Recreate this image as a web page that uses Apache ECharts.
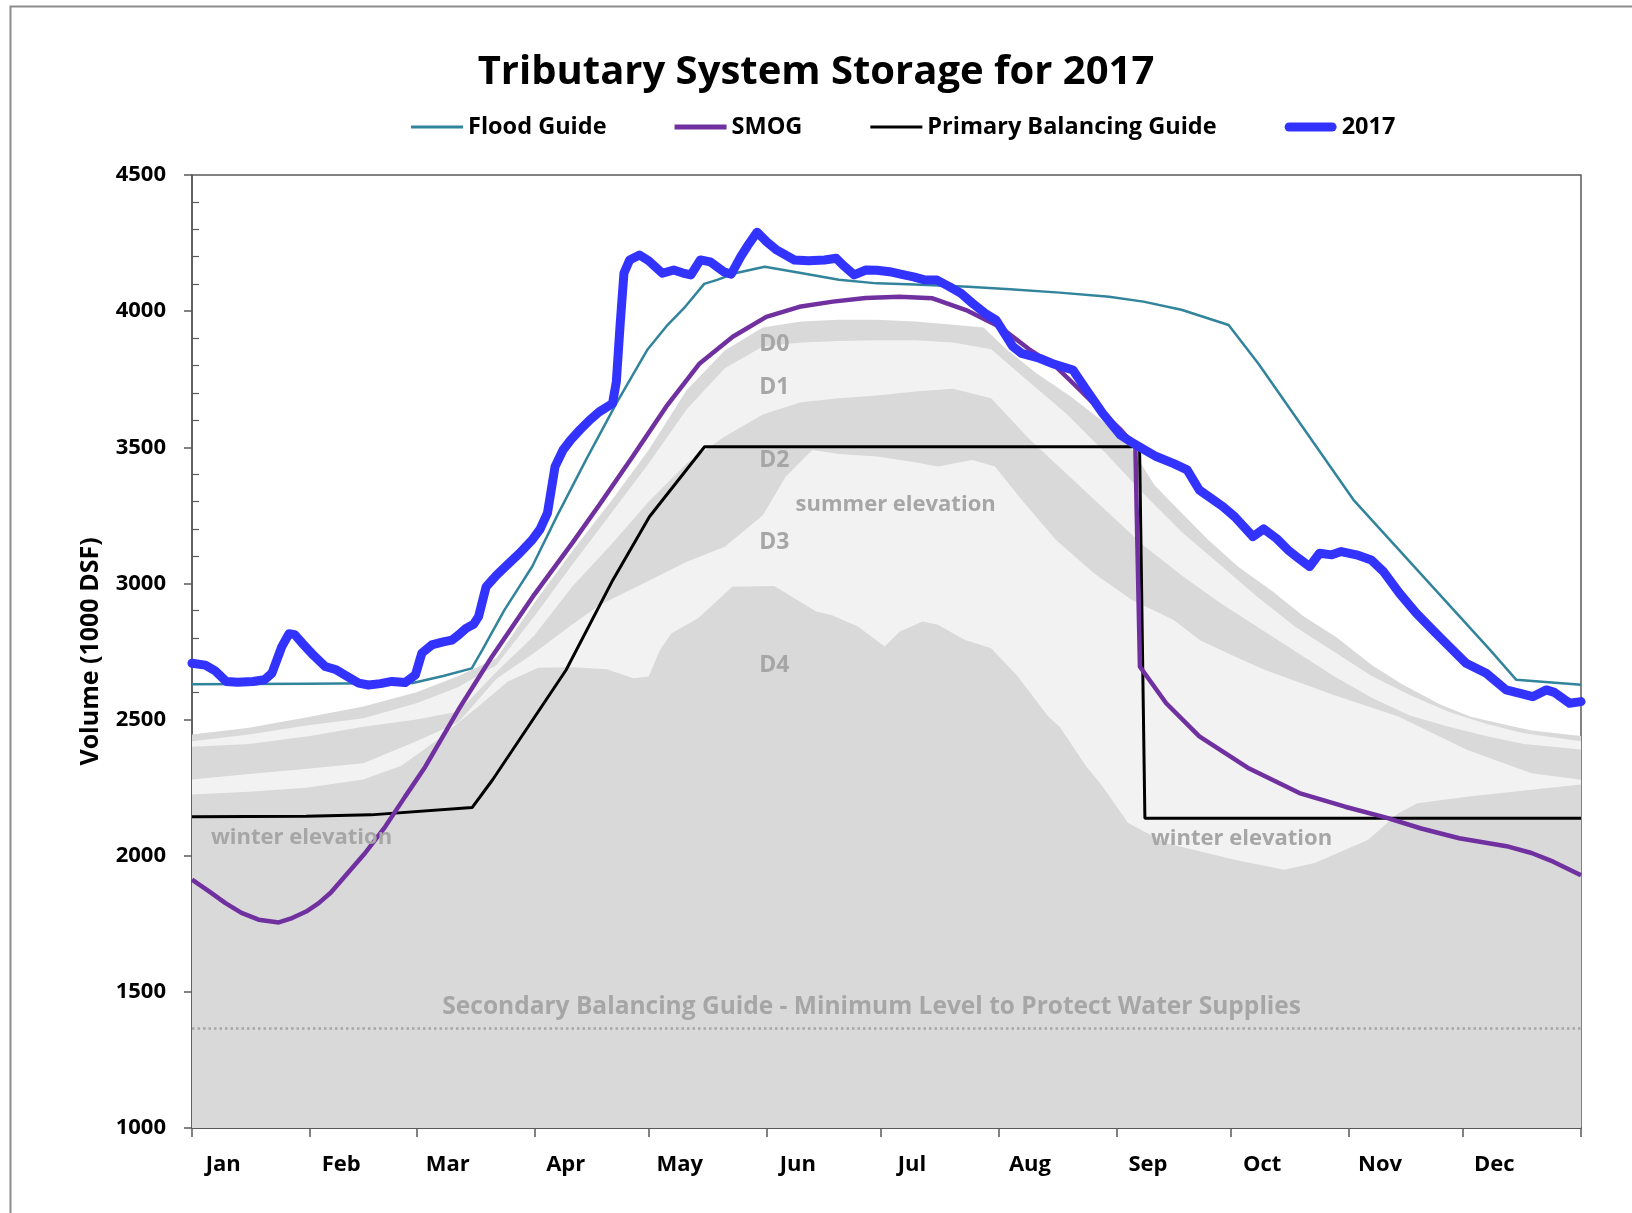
<!DOCTYPE html>
<html>
<head>
<meta charset="utf-8">
<title>Tributary System Storage for 2017</title>
<script src="https://cdn.jsdelivr.net/npm/echarts@6/dist/echarts.min.js"></script>
<style>
  html, body { margin: 0; padding: 0; background: #fff; }
  #chart { width: 1632px; height: 1213px; }
</style>
</head>
<body>
<div id="chart"></div>
<script>
// month axis (day of year)
var monthNames = ['Jan', 'Feb', 'Mar', 'Apr', 'May', 'Jun', 'Jul', 'Aug', 'Sep', 'Oct', 'Nov', 'Dec'];
var monthStarts = [0, 31, 59, 90, 120, 151, 181, 212, 243, 273, 304, 334, 365];

// guide curves, [day, storage 1000 DSF]
var floodGuide = [[0,2630],[30,2632],[58,2634],[66,2660],[73.5,2688],[76.3,2756],[82,2900],[89.4,3062],[96,3250],
  [103.5,3453],[111.5,3661],[119.6,3857],[125,3950],[129.6,4016],[134.6,4100],[138,4115],[142.7,4139],[150.5,4163],
  [160,4140],[170,4115],[180,4102],[190,4098],[204,4090],[215,4080],[228,4068],[241,4053],[250,4035],[260,4005],
  [272.4,3949],[280.2,3808],[305.2,3307],[341.1,2756],[348,2646],[365,2628]];

var smog = [[0,1912],[4.4,1870],[8.8,1826],[13,1790],[17.5,1765],[22.8,1755],[26.3,1771],[30,1795],[33.3,1826],
  [36.5,1865],[39.4,1912],[45.5,2010],[50.8,2107],[56,2217],[61.3,2327],[70,2536],[78.8,2731],[90,2960],[100,3150],
  [107.1,3290],[115.8,3466],[124.6,3649],[133.4,3808],[142.1,3906],[150.9,3979],[159.6,4016],[168.4,4035],[177,4048],
  [185.9,4053],[194.6,4047],[203.4,4004],[212.2,3943],[220,3860],[227,3796],[233,3715],[239.5,3625],[244,3565],
  [247.9,3502],[249.1,2694],[256,2560],[264.7,2438],[277.8,2320],[291,2230],[303,2180],[313.8,2140],[323,2100],
  [333,2064],[345.4,2035],[352,2010],[357.7,1978],[365,1928]];

var primaryGuide = [[0,2143],[30,2145],[47,2150],[73.6,2177],[79,2279],[98.3,2682],[110.6,3013],[120.2,3245],
  [134.7,3502],[249,3502],[250.4,2138],[365,2138]];

var storage2017 = [[0,2707],[3.5,2700],[6,2680],[9,2640],[12,2637],[16,2640],[19,2646],[21,2670],[23.6,2768],
  [25.5,2815],[27,2812],[29,2780],[32,2735],[35,2695],[37.7,2684],[40,2665],[43.8,2634],[46.4,2627],[49.5,2632],
  [52.5,2640],[56,2636],[58.7,2664],[60.4,2744],[63,2774],[66,2785],[68.3,2792],[70,2810],[72,2835],[74,2850],
  [75.3,2878],[77.3,2988],[80,3030],[82.4,3062],[86,3110],[89.4,3160],[91.5,3200],[93.4,3258],[95.4,3429],
  [97.5,3490],[99.5,3527],[102,3565],[104.5,3600],[107,3630],[110.5,3661],[111.5,3740],[112.5,3950],[113.5,4139],
  [115,4188],[117.6,4206],[120,4185],[123.6,4139],[126.6,4151],[129,4140],[131.1,4133],[133.6,4188],[136.2,4181],
  [139.7,4145],[141.7,4136],[144.2,4200],[146,4240],[148.5,4290],[151,4255],[153.7,4224],[158.3,4188],[162,4185],
  [166.2,4188],[169.3,4194],[171,4170],[174,4133],[177.1,4151],[180,4150],[183.3,4145],[186.5,4135],[189.6,4126],
  [192.5,4115],[195.8,4114],[199,4090],[202.1,4065],[205,4030],[208.4,3992],[211.3,3967],[215.7,3870],[218,3845],
  [222.7,3827],[226,3808],[231.5,3784],[235,3711],[239.3,3625],[244,3545],[247.3,3515],[251,3485],[253.4,3466],
  [258,3440],[261.5,3417],[264.7,3343],[270.9,3282],[274,3245],[278.8,3172],[281.6,3200],[285,3165],[288,3123],
  [291,3090],[293.7,3062],[296.3,3111],[299.5,3105],[302,3117],[306,3105],[309.9,3086],[313,3045],[317.3,2964],
  [321.7,2891],[326,2829],[330.4,2768],[334.8,2707],[340.1,2670],[345.3,2609],[349,2596],[352.3,2584],[355.9,2609],
  [358,2600],[362,2560],[365,2566]];

var secondaryGuide = [[0,1365],[365,1365]];

// shaded drought bands, top edge of each zone (E highest ... A lowest)
var bandE = [[0,2445],[15,2470],[31,2510],[45,2548],[59,2600],[70,2660],[80,2725],[90,2930],[100,3120],[110,3300],
  [120,3490],[130,3710],[140,3855],[150,3940],[160,3962],[170,3968],[180,3968],[190,3962],[200,3950],[208,3940],
  [214,3860],[222,3771],[231,3686],[240,3588],[246,3515],[253,3360],[260,3260],[267,3160],[275,3060],[284,2970],
  [292,2880],[301,2800],[310,2700],[318,2630],[328,2555],[336,2510],[344,2485],[352,2460],[365,2440]];
var bandD = [[0,2420],[15,2445],[31,2480],[45,2505],[59,2560],[70,2620],[80,2700],[90,2880],[100,3070],[110,3255],
  [120,3440],[130,3640],[140,3790],[150,3870],[160,3885],[170,3890],[180,3893],[190,3893],[200,3885],[210,3860],
  [220,3740],[230,3620],[240,3480],[250,3330],[260,3190],[270,3070],[280,2950],[290,2840],[300,2750],[310,2660],
  [320,2590],[330,2530],[340,2485],[350,2450],[365,2420]];
var bandC = [[0,2400],[15,2410],[31,2440],[45,2474],[59,2500],[70,2530],[80,2675],[90,2810],[100,2990],[110,3140],
  [120,3300],[130,3440],[140,3540],[150,3620],[160,3665],[170,3680],[180,3690],[190,3705],[200,3715],[210,3680],
  [220,3530],[230,3400],[240,3270],[250,3140],[260,3030],[270,2930],[280,2840],[290,2750],[300,2660],[310,2580],
  [320,2515],[330,2475],[340,2440],[350,2410],[365,2390]];
var bandB = [[0,2280],[15,2300],[31,2320],[45,2340],[59,2420],[70,2490],[80,2650],[90,2745],[100,2850],[107,2920],
  [120,3010],[130,3080],[140,3135],[150,3250],[156,3392],[163,3490],[170,3475],[180,3466],[190,3445],[196,3429],
  [205,3453],[211,3429],[218,3307],[227,3160],[237,3037],[247,2939],[258,2866],[265,2790],[275,2725],[282,2682],
  [300,2590],[317,2511],[335,2389],[352,2303],[365,2279]];
var bandA = [[0,2225],[15,2235],[30,2250],[45,2280],[55,2330],[64,2420],[75,2545],[83,2640],[91,2690],[100,2692],
  [109,2685],[116,2652],[120,2658],[123,2756],[126,2817],[133,2872],[142,2988],[153,2991],[164,2897],[168,2884],
  [175,2842],[182,2768],[186,2823],[192,2860],[196,2848],[203,2793],[210,2762],[217,2658],[225,2511],[228,2474],
  [235,2328],[239,2260],[246,2120],[256,2046],[274,1985],[287,1948],[295,1973],[309,2058],[317,2156],[322,2193],
  [335,2217],[352,2242],[365,2262]];

// text placed inside the plot, anchored in data units
var zoneLabels = [
  { text: 'D0', day: 153, vol: 3877, size: 23 },
  { text: 'D1', day: 153, vol: 3718, size: 23 },
  { text: 'D2', day: 153, vol: 3450, size: 23 },
  { text: 'summer elevation', day: 184.9, vol: 3288, size: 22 },
  { text: 'D3', day: 153, vol: 3149, size: 23 },
  { text: 'D4', day: 153, vol: 2697, size: 23 },
  { text: 'winter elevation', day: 28.8, vol: 2066, size: 22 },
  { text: 'winter elevation', day: 275.8, vol: 2062, size: 22 },
  { text: 'Secondary Balancing Guide - Minimum Level to Protect Water Supplies', day: 178.6, vol: 1444, size: 24.5 }
];

var FONT = '"Open Sans", "Noto Sans", sans-serif';
var DARK = '#d9d9d9', LIGHT = '#f2f2f2';

function band(name, pts, color) {
  return {
    name: name, type: 'line', data: pts, symbol: 'none', silent: true, z: 1,
    lineStyle: { width: 0 },
    areaStyle: { color: color, opacity: 1, origin: 'start' }
  };
}

var labelDays = monthStarts.slice(0, 12).map(function (d) { return d + 8.2; });

var chart = echarts.init(document.getElementById('chart'));

chart.setOption({
  animation: false,
  backgroundColor: '#fff',
  textStyle: { fontFamily: FONT },
  title: {
    text: 'Tributary System Storage for 2017',
    left: 'center', top: 48,
    textStyle: { fontSize: 40, fontWeight: 'bold', color: '#000', fontFamily: FONT }
  },
  legend: {
    data: [
      { name: 'Flood Guide', icon: 'path://M0,0H52V3H0Z' },
      { name: 'SMOG', icon: 'path://M0,0H52V5H0Z' },
      { name: 'Primary Balancing Guide', icon: 'path://M0,0H52V3H0Z' },
      { name: '2017', icon: 'path://M5,0H53A5,5,0,0,1,53,10H5A5,5,0,0,1,5,0Z' }
    ],
    left: 411, top: 115, padding: 0,
    itemWidth: 52, itemHeight: 14, itemGap: 68,
    textStyle: { fontSize: 23.5, fontWeight: 'bold', color: '#000', fontFamily: FONT }
  },
  grid: {
    left: 192, right: 51, top: 175, bottom: 85,
    show: true, borderColor: '#595959', borderWidth: 1.5, backgroundColor: 'transparent'
  },
  xAxis: {
    type: 'value', min: 0, max: 365,
    splitLine: { show: false },
    axisLine: { lineStyle: { color: '#595959', width: 2 } },
    axisTick: { show: true, customValues: monthStarts, length: 9, lineStyle: { color: '#595959', width: 1.5 } },
    axisLabel: {
      customValues: labelDays, margin: 26,
      fontSize: 22, fontWeight: 'bold', color: '#000', fontFamily: FONT,
      formatter: function (v) {
        for (var i = 0; i < labelDays.length; i++) {
          if (Math.abs(labelDays[i] - v) < 0.5) return monthNames[i];
        }
        return '';
      }
    }
  },
  yAxis: [{
    type: 'value', min: 1000, max: 4500, interval: 500,
    name: 'Volume (1000 DSF)', nameLocation: 'middle', nameGap: 89, nameRotate: 90,
    nameTextStyle: { fontSize: 25, fontWeight: 'bold', color: '#000', fontFamily: FONT },
    splitLine: { show: false },
    axisLine: { show: true, lineStyle: { color: '#595959', width: 1.5 } },
    axisTick: { show: true, length: 8, lineStyle: { color: '#595959', width: 1.5 } },
    axisLabel: {
      margin: 26, fontSize: 22, fontWeight: 'bold', color: '#000', fontFamily: FONT,
      formatter: function (v) { return String(v); }
    }
  }, {
    type: 'value', min: 1000, max: 4500, interval: 500, position: 'left',
    splitLine: { show: false },
    axisLine: { show: false },
    axisLabel: { show: false },
    axisTick: { show: false, inside: true },
    minorTick: { show: true, splitNumber: 5, length: 7, lineStyle: { color: '#595959', width: 1.2 } }
  }],
  series: [
    band('E', bandE, DARK),
    band('D', bandD, LIGHT),
    band('C', bandC, DARK),
    band('B', bandB, LIGHT),
    band('A', bandA, DARK),
    {
      name: 'Secondary', type: 'line', data: secondaryGuide, symbol: 'none', silent: true, z: 2,
      lineStyle: { color: '#a6a6a6', width: 2.5, type: [2.5, 3] }
    },
    {
      name: 'Primary Balancing Guide', type: 'line', data: primaryGuide, symbol: 'none', z: 3,
      color: '#000000', lineStyle: { color: '#000', width: 3 }
    },
    {
      name: 'Flood Guide', type: 'line', data: floodGuide, symbol: 'none', z: 3,
      color: '#31849b', lineStyle: { color: '#31849b', width: 2.5 }
    },
    {
      name: 'SMOG', type: 'line', data: smog, symbol: 'none', z: 3,
      color: '#7030a0', lineStyle: { color: '#7030a0', width: 4.5 }
    },
    {
      name: '2017', type: 'line', data: storage2017, symbol: 'none', z: 3,
      color: '#3333ff', lineStyle: { color: '#3333ff', width: 9, cap: 'round', join: 'round' }
    }
  ]
});

// place zone text and the outer frame
var graphics = [{
  type: 'rect', left: 8, top: 4, silent: true,
  shape: { width: 1700, height: 1300 },
  style: { fill: 'none', stroke: '#8c8c8c', lineWidth: 2 }
}];
zoneLabels.forEach(function (l) {
  var p = chart.convertToPixel({ gridIndex: 0 }, [l.day, l.vol]);
  graphics.push({
    type: 'text', x: p[0], y: p[1], silent: true, z: 10,
    style: {
      text: l.text, fill: '#a6a6a6', font: 'bold ' + l.size + 'px ' + FONT,
      align: 'center', verticalAlign: 'middle'
    }
  });
});
chart.setOption({ graphic: graphics });
</script>
</body>
</html>
